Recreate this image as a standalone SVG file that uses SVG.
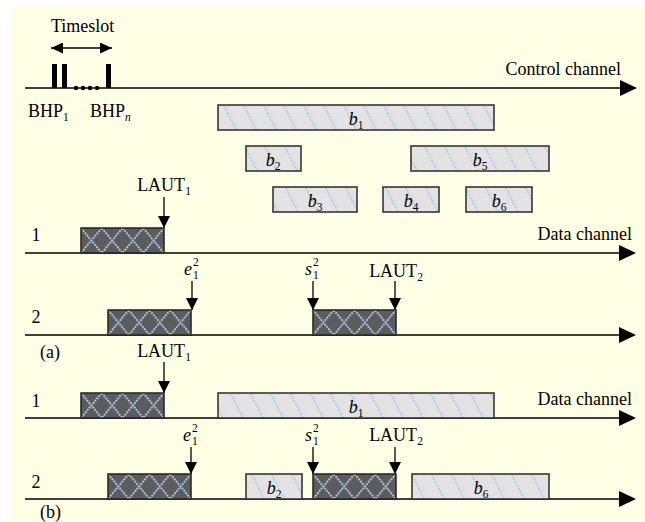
<svg xmlns="http://www.w3.org/2000/svg" xmlns:xlink="http://www.w3.org/1999/xlink" width="645" height="522" viewBox="0 0 645 522">
  <style>
    text { font-family: "Liberation Serif", "Times New Roman", serif; font-size: 18px; fill: #000; }
    .sub { font-size: 11.5px; }
    .it { font-style: italic; }
    .axis { stroke: #000; stroke-width: 1.5; fill: none; marker-end: url(#bigHead); }
    .ptr { stroke: #000; stroke-width: 1.3; fill: none; marker-end: url(#ptrHead); }
    .burst { fill: url(#diag); stroke: #2a2a2a; stroke-width: 1.5; }
    .bar { fill: #000; }
  </style>
  <defs>
    <!-- light diagonal hatch for data bursts -->
    <pattern id="diag" patternUnits="userSpaceOnUse" width="20" height="25" patternTransform="skewX(27)">
      <rect width="20" height="25" fill="#e3e3e3"/>
      <line x1="10" y1="0" x2="10" y2="25" stroke="#a9c6e4" stroke-width="1.6" stroke-dasharray="2 1.2"/>
      <line x1="13" y1="0" x2="13" y2="25" stroke="#cfdcea" stroke-width="1" stroke-dasharray="1.5 1.5"/>
    </pattern>
    <!-- dark cross-hatched burst block -->
    <symbol id="dark" width="83" height="25" viewBox="0 0 83 25" overflow="visible">
      <rect width="83" height="25" fill="#5c5c5c"/>
      <g stroke="#a6c4e4" stroke-width="2" stroke-dasharray="2 1">
        <path d="M0,0 L20.75,25 M20.75,0 L0,25"/>
        <path d="M20.75,0 L41.5,25 M41.5,0 L20.75,25"/>
        <path d="M41.5,0 L62.25,25 M62.25,0 L41.5,25"/>
        <path d="M62.25,0 L83,25 M83,0 L62.25,25"/>
      </g>
      <rect width="83" height="25" fill="none" stroke="#222" stroke-width="1.5"/>
    </symbol>
    <marker id="bigHead" markerUnits="userSpaceOnUse" markerWidth="17" markerHeight="16" refX="1" refY="8" orient="auto">
      <path d="M0,0 L17,8 L0,16 z" fill="#000"/>
    </marker>
    <marker id="ptrHead" markerUnits="userSpaceOnUse" markerWidth="12" markerHeight="12" refX="12" refY="6" orient="auto">
      <path d="M0,0 L12,6 L0,12 z" fill="#000"/>
    </marker>
    <marker id="slotHead" markerUnits="userSpaceOnUse" markerWidth="12" markerHeight="11" refX="12" refY="5.5" orient="auto-start-reverse">
      <path d="M0,0 L12,5.5 L0,11 z" fill="#000"/>
    </marker>
  </defs>

  <rect x="12" y="7" width="633" height="515" fill="#ffffe5"/>

  <!-- time axes -->
  <g id="connectors">
    <line class="axis" x1="25" y1="88" x2="621" y2="88"/>
    <line class="axis" x1="25" y1="253" x2="620" y2="253"/>
    <line class="axis" x1="25" y1="335" x2="620" y2="335"/>
    <line class="axis" x1="25" y1="418" x2="620" y2="418"/>
    <line class="axis" x1="25" y1="499" x2="620" y2="499"/>
    <!-- timeslot span -->
    <line x1="51" y1="48" x2="112" y2="48" stroke="#000" stroke-width="1.3" marker-start="url(#slotHead)" marker-end="url(#slotHead)"/>
    <!-- instants -->
    <line class="ptr" x1="164" y1="197" x2="164" y2="228"/>
    <line class="ptr" x1="192" y1="281" x2="192" y2="310"/>
    <line class="ptr" x1="313" y1="281" x2="313" y2="310"/>
    <line class="ptr" x1="395" y1="281" x2="395" y2="310"/>
    <line class="ptr" x1="164" y1="362" x2="164" y2="393"/>
    <line class="ptr" x1="191" y1="447" x2="191" y2="474"/>
    <line class="ptr" x1="313" y1="447" x2="313" y2="474"/>
    <line class="ptr" x1="395" y1="447" x2="395" y2="474"/>
  </g>

  <!-- control channel with burst header packets -->
  <g id="control">
    <text x="51" y="32">Timeslot</text>
    <rect class="bar" x="52" y="64" width="5" height="24"/>
    <rect class="bar" x="62" y="64" width="5" height="24"/>
    <rect class="bar" x="106" y="64" width="5" height="24"/>
    <circle cx="76" cy="88" r="2.2"/>
    <circle cx="83" cy="88" r="2.2"/>
    <circle cx="90" cy="88" r="2.2"/>
    <circle cx="97" cy="88" r="2.2"/>
    <text x="28" y="117">BHP<tspan class="sub" dy="4">1</tspan></text>
    <text x="90" y="117">BHP<tspan class="sub it" dy="4">n</tspan></text>
    <text x="621" y="75" text-anchor="end">Control channel</text>
  </g>

  <!-- bursts announced on the control channel -->
  <g id="b1">
    <rect class="burst" x="218" y="105" width="276" height="25"/>
    <text x="356" y="125" text-anchor="middle"><tspan class="it">b</tspan><tspan class="sub" dy="4">1</tspan></text>
  </g>
  <g id="b2">
    <rect class="burst" x="246" y="146" width="55" height="25"/>
    <text x="273" y="166" text-anchor="middle"><tspan class="it">b</tspan><tspan class="sub" dy="4">2</tspan></text>
  </g>
  <g id="b5">
    <rect class="burst" x="411" y="146" width="138" height="25"/>
    <text x="480" y="166" text-anchor="middle"><tspan class="it">b</tspan><tspan class="sub" dy="4">5</tspan></text>
  </g>
  <g id="b3">
    <rect class="burst" x="273" y="187" width="84" height="25"/>
    <text x="315" y="207" text-anchor="middle"><tspan class="it">b</tspan><tspan class="sub" dy="4">3</tspan></text>
  </g>
  <g id="b4">
    <rect class="burst" x="383" y="187" width="56" height="25"/>
    <text x="411" y="207" text-anchor="middle"><tspan class="it">b</tspan><tspan class="sub" dy="4">4</tspan></text>
  </g>
  <g id="b6">
    <rect class="burst" x="466" y="187" width="66" height="25"/>
    <text x="499" y="207" text-anchor="middle"><tspan class="it">b</tspan><tspan class="sub" dy="4">6</tspan></text>
  </g>

  <!-- (a) data channels -->
  <g id="a-ch1">
    <text x="36" y="241" text-anchor="middle">1</text>
    <use href="#dark" x="81" y="228"/>
    <text x="164" y="191" text-anchor="middle">LAUT<tspan class="sub" dy="4">1</tspan></text>
    <text x="632" y="240" text-anchor="end">Data channel</text>
  </g>
  <g id="a-ch2">
    <text x="36" y="323" text-anchor="middle">2</text>
    <use href="#dark" x="108" y="310"/>
    <use href="#dark" x="313" y="310"/>
    <text class="it" x="184" y="275">e</text>
    <text class="sub" x="193" y="266">2</text>
    <text class="sub" x="193" y="279">1</text>
    <text class="it" x="305" y="275">s</text>
    <text class="sub" x="313" y="266">2</text>
    <text class="sub" x="313" y="279">1</text>
    <text x="396" y="277" text-anchor="middle">LAUT<tspan class="sub" dy="4">2</tspan></text>
    <text x="40" y="358">(a)</text>
  </g>

  <!-- (b) data channels -->
  <g id="b-ch1">
    <text x="36" y="407" text-anchor="middle">1</text>
    <use href="#dark" x="81" y="393"/>
    <text x="164" y="357" text-anchor="middle">LAUT<tspan class="sub" dy="4">1</tspan></text>
    <rect class="burst" x="218" y="393" width="276" height="25"/>
    <text x="356" y="413" text-anchor="middle"><tspan class="it">b</tspan><tspan class="sub" dy="4">1</tspan></text>
    <text x="632" y="405" text-anchor="end">Data channel</text>
  </g>
  <g id="b-ch2">
    <text x="36" y="488" text-anchor="middle">2</text>
    <use href="#dark" x="108" y="474"/>
    <use href="#dark" x="313" y="474"/>
    <rect class="burst" x="246" y="474" width="56" height="25"/>
    <text x="274" y="494" text-anchor="middle"><tspan class="it">b</tspan><tspan class="sub" dy="4">2</tspan></text>
    <rect class="burst" x="412" y="474" width="137" height="25"/>
    <text x="481" y="494" text-anchor="middle"><tspan class="it">b</tspan><tspan class="sub" dy="4">6</tspan></text>
    <text class="it" x="183" y="441">e</text>
    <text class="sub" x="192" y="432">2</text>
    <text class="sub" x="192" y="445">1</text>
    <text class="it" x="305" y="441">s</text>
    <text class="sub" x="313" y="432">2</text>
    <text class="sub" x="313" y="445">1</text>
    <text x="396" y="441" text-anchor="middle">LAUT<tspan class="sub" dy="4">2</tspan></text>
    <text x="40" y="518">(b)</text>
  </g>
</svg>
